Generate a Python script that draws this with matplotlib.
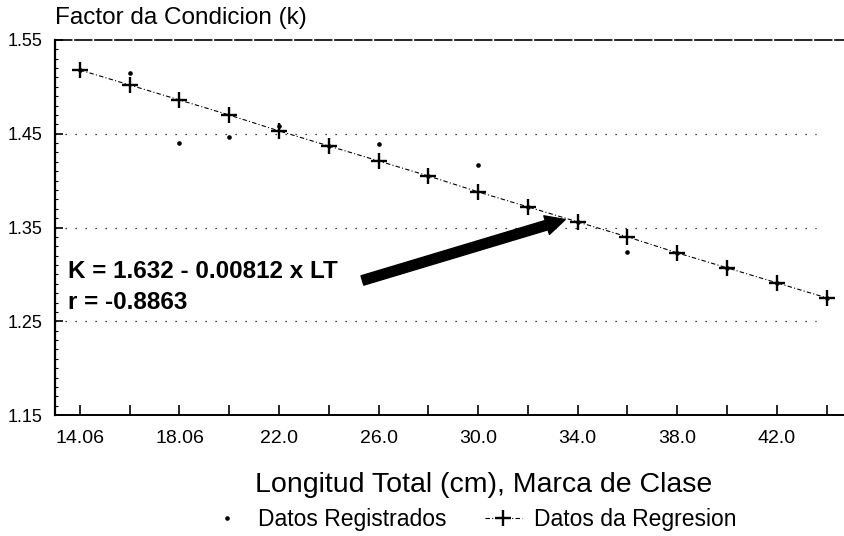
import matplotlib
matplotlib.use('Agg')
from matplotlib import pyplot as plt
from matplotlib.ticker import MultipleLocator
import numpy as np

plt.rcParams['font.family'] = ['Liberation Sans', 'DejaVu Sans']

# class marks (positions on the axis) and their printed labels
claseX = [14, 16, 18, 20, 22, 24, 26, 28, 30, 32, 34, 36, 38, 40, 42, 44]
tickLabels = ['14.06', '', '18.06', '', '22.0', '', '26.0', '', '30.0', '',
              '34.0', '', '38.0', '', '42.0', '']

# observed condition factor
kRegistrado = [1.518, 1.515, 1.440, 1.446, 1.458, 1.437, 1.439, 1.405,
               1.417, 1.372, 1.356, 1.324, 1.323, 1.307, 1.291, 1.275]
# regression values
kRegresion = [1.518, 1.502, 1.486, 1.470, 1.453, 1.437, 1.421, 1.405,
              1.388, 1.372, 1.356, 1.340, 1.323, 1.307, 1.291, 1.275]

fig = plt.figure(figsize=(8.44, 5.36), dpi=100)
ax = fig.add_axes([0.0652, 0.2257, 0.9348, 0.6997])

ax.plot(claseX, kRegistrado, 'o', ms=2.3, color='black', label='Datos Registrados')
ax.plot(claseX, kRegresion, '-.', lw=0.8, color='black', marker='+', ms=12, mew=1.7,
        dashes=(4, 2, 1, 2), label='Datos da Regresion')

for yv in [1.45, 1.35, 1.25]:
    ax.axhline(yv, xmin=0, xmax=0.965, color='black', lw=0.9, linestyle=(0, (1, 7)))

ax.set_xlim(13, 44.7)
ax.set_ylim(1.15, 1.55)
ax.set_xticks(claseX)
ax.set_xticklabels(tickLabels)
ax.set_yticks([1.15, 1.25, 1.35, 1.45, 1.55])
ax.set_yticklabels(['1.15', '1.25', '1.35', '1.45', '1.55'])
ax.yaxis.set_minor_locator(MultipleLocator(0.01))
ax.tick_params(axis='x', direction='in', length=7, width=1.2, pad=11, labelsize=14)
ax.tick_params(axis='y', direction='in', length=6, width=1.2, pad=9, labelsize=13)
ax.tick_params(axis='y', which='minor', direction='in', length=2, width=0.8)

ax.spines['right'].set_visible(False)
ax.spines['top'].set_linestyle((0, (10, 2)))
ax.spines['top'].set_linewidth(1.2)
ax.spines['left'].set_linewidth(1.6)
ax.spines['bottom'].set_linewidth(1.4)

ax.text(13.52, 1.303, 'K = 1.632 - 0.00812 x LT', fontsize=17.5, fontweight='bold',
        va='center', ha='left')
ax.text(13.52, 1.270, 'r = -0.8863', fontsize=17.5, fontweight='bold',
        va='center', ha='left')
ax.annotate('', xy=(33.5, 1.3585), xytext=(25.35, 1.2935),
            arrowprops=dict(arrowstyle='simple,head_length=1.0,head_width=1.0,tail_width=0.5',
                            color='black', mutation_scale=14, shrinkA=0, shrinkB=0))

fig.text(0.0652, 0.966, 'Factor da Condicion (k)', fontsize=17.5, ha='left', va='center')
fig.text(0.573, 0.095, 'Longitud Total (cm), Marca de Clase', fontsize=20.5,
         ha='center', va='center')

fig.legend(loc='center', bbox_to_anchor=(0.560, 0.03), ncol=2, frameon=False,
           fontsize=16.5, handlelength=1.6, columnspacing=1.7, handletextpad=0.55)

fig.savefig('out.png', dpi=100)
